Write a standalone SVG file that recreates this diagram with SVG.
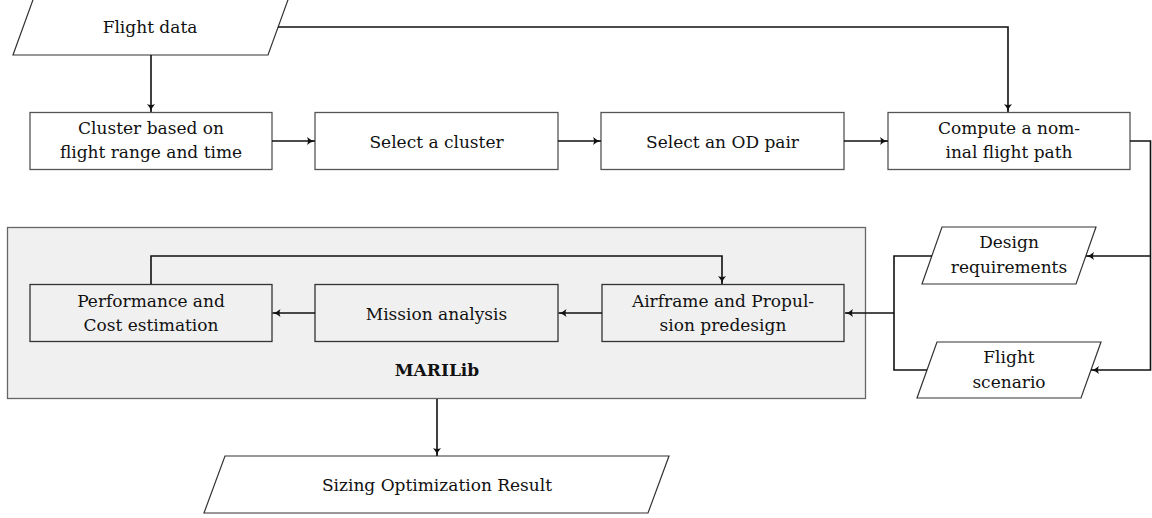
<svg xmlns="http://www.w3.org/2000/svg" width="1152" height="518" viewBox="0 0 1152 518">
<style>
.box{fill:#fff;stroke:#555;stroke-width:1.3}
.io{fill:#fff;stroke:#333;stroke-width:1.2}
.cont{fill:#f0f0f0;stroke:#666;stroke-width:1.3}
.inner{fill:#f0f0f0;stroke:#333;stroke-width:1.3}
text{font-family:'DejaVu Serif','Liberation Serif',serif;font-size:17px;fill:#111;text-anchor:middle}
.b{font-weight:bold}
.c{fill:none;stroke:#111;stroke-width:1.6}
</style>
<defs>
<marker id="ah" markerUnits="userSpaceOnUse" markerWidth="12" markerHeight="12" refX="8" refY="0" viewBox="-1 -6 11 12" orient="auto">
<path d="M0,-4 Q3,-1 8,0 Q3,1 0,4 Q2,0 0,-4 z" fill="#111"/>
</marker>
</defs>
<g id="marilib">
<rect class="cont" x="7.5" y="227.5" width="858" height="171"/>
<text class="b" x="437" y="376">MARILib</text>
</g>
<g id="flight-data">
<polygon class="io" points="34,-3 289,-3 268,55 13,55"/>
<text x="150" y="33">Flight data</text>
</g>
<g id="cluster">
<rect class="box" x="30" y="112.5" width="242" height="57"/>
<text x="151" y="134">Cluster based on</text>
<text x="151" y="158">flight range and time</text>
</g>
<g id="select-cluster">
<rect class="box" x="315" y="112.5" width="243" height="57"/>
<text x="436.5" y="148">Select a cluster</text>
</g>
<g id="select-od">
<rect class="box" x="601" y="112.5" width="243" height="57"/>
<text x="722.5" y="148">Select an OD pair</text>
</g>
<g id="compute">
<rect class="box" x="888" y="112.5" width="242" height="57"/>
<text x="1009" y="134">Compute a nom-</text>
<text x="1009" y="158">inal flight path</text>
</g>
<g id="design-req">
<polygon class="io" points="942,227 1096,227 1076,284 922,284"/>
<text x="1009" y="248">Design</text>
<text x="1009" y="273">requirements</text>
</g>
<g id="flight-scenario">
<polygon class="io" points="937,342 1101,342 1081,398 917,398"/>
<text x="1009" y="363">Flight</text>
<text x="1009" y="388">scenario</text>
</g>
<g id="performance">
<rect class="inner" x="30" y="284.5" width="242" height="57"/>
<text x="151" y="307">Performance and</text>
<text x="151" y="331">Cost estimation</text>
</g>
<g id="mission">
<rect class="inner" x="315" y="284.5" width="243" height="57"/>
<text x="436.5" y="320">Mission analysis</text>
</g>
<g id="airframe">
<rect class="inner" x="602" y="284.5" width="242" height="57"/>
<text x="723" y="307">Airframe and Propul-</text>
<text x="723" y="331">sion predesign</text>
</g>
<g id="sizing">
<polygon class="io" points="225,456 669,456 648,513 204,513"/>
<text x="437" y="491">Sizing Optimization Result</text>
</g>
<g id="connectors">
<path class="c" d="M278,27 H1008 V112" marker-end="url(#ah)"/>
<path class="c" d="M151,55 V112" marker-end="url(#ah)"/>
<path class="c" d="M272,141 H315" marker-end="url(#ah)"/>
<path class="c" d="M558,141 H601" marker-end="url(#ah)"/>
<path class="c" d="M844,141 H888" marker-end="url(#ah)"/>
<path class="c" d="M1130,141 H1150.5 V370 H1091" marker-end="url(#ah)"/>
<path class="c" d="M1150.5,256 H1086" marker-end="url(#ah)"/>
<path class="c" d="M932,256 H894 V370 H927"/>
<path class="c" d="M894,313 H845" stroke-width="2" marker-end="url(#ah)"/>
<path class="c" d="M602,313 H558.5" marker-end="url(#ah)"/>
<path class="c" d="M315,313 H272.5" marker-end="url(#ah)"/>
<path class="c" d="M151,284 V256 H722 V284" marker-end="url(#ah)"/>
<path class="c" d="M437,399 V456" marker-end="url(#ah)"/>
</g>
</svg>
